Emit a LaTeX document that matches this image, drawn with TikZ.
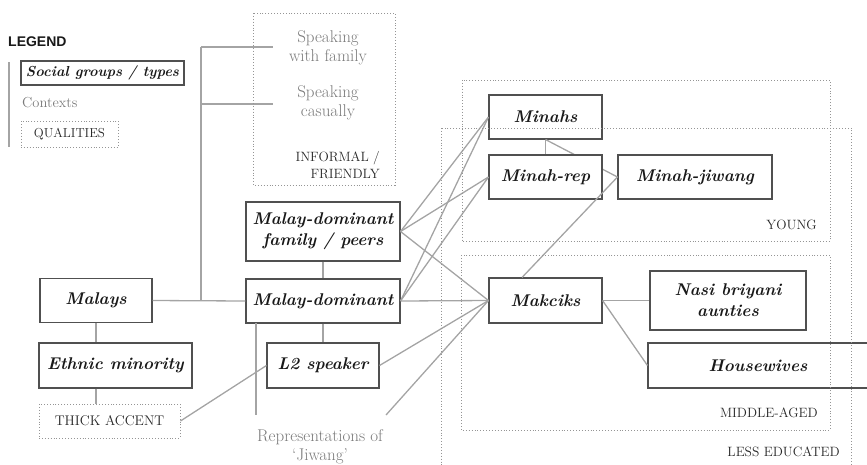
\documentclass[tikz,border=0pt]{standalone}
\usepackage{fontspec}
\newfontfamily\legendfont{Liberation Sans}
\definecolor{boxc}{HTML}{505050}
\definecolor{linec}{HTML}{A4A4A4}
\definecolor{ctxc}{HTML}{7A7A7A}
\definecolor{dotc}{HTML}{959595}
\definecolor{capc}{HTML}{262626}
\tikzset{
  grp/.style={draw=boxc, line width=1.05pt, fill=white, inner sep=0pt, align=center,
    font=\fontsize{17}{21}\selectfont\bfseries\itshape, text=black!90},
  lgrp/.style={grp, font=\fontsize{14.5}{18}\selectfont\bfseries\itshape},
  ctx/.style={text=ctxc, align=center, inner sep=0pt, font=\fontsize{17}{19}\selectfont},
  qual/.style={text=capc, inner sep=0pt, font=\fontsize{13.5}{16.5}\selectfont\addfontfeatures{LetterSpace=4}},
  region/.style={draw=dotc, line width=0.9pt, dotted},
  conn/.style={draw=linec, line width=1.3pt},
}
\begin{document}
\begin{tikzpicture}[x=1pt, y=-1pt]
\useasboundingbox (0,0) rectangle (867,464);
\clip (0,0) rectangle (867,464);
% legend
\node[anchor=west, inner sep=0pt, font=\legendfont\fontsize{14}{16}\selectfont\bfseries, text=black!90] (legend) at (8,42) {LEGEND};
\coordinate (lgtop) at (9,62);
\coordinate (lgbot) at (9,147);
\draw[draw=linec, line width=2pt] (lgtop) -- (lgbot);
\node[lgrp, minimum width=163pt, minimum height=24pt] (lsocial) at (102.5,73) {Social groups / types};
\node[ctx, anchor=west, font=\fontsize{14.5}{17}\selectfont] (lctx) at (22,103) {Contexts};
\node[region, qual, minimum width=97pt, minimum height=26pt, font=\fontsize{13}{15}\selectfont\addfontfeatures{LetterSpace=4}] (lqual) at (69.5,134) {QUALITIES};

% context labels
\node[ctx] (sfam) at (328,48) {Speaking\\with family};
\node[ctx] (scas) at (328,103) {Speaking\\casually};
\node[qual, anchor=east, align=right] (informal) at (380,165) {INFORMAL /\\FRIENDLY};
\node[ctx] (rep) at (320,447) {Representations of\\`Jiwang'};

% coordinates for tree and free ends
\coordinate (tj) at (201,300.5);
\coordinate (tt) at (201,47);
\coordinate (tm) at (201,104);
\coordinate (sfend) at (273,47);
\coordinate (scend) at (273,104);
\coordinate (repL) at (256,415);
\coordinate (repLt) at (256,323);
\coordinate (repR) at (386,415);

% positions
\path
  (96,300.5) coordinate (pmalays)
  (115.5,365.5) coordinate (pethnic)
  (109.5,421) coordinate (pthick)
  (323,231.5) coordinate (pfam)
  (323,301) coordinate (pmaldom)
  (323,365.5) coordinate (pl2)
  (545.5,117) coordinate (pminahs)
  (545.5,177) coordinate (pminahrep)
  (695,177) coordinate (pminahjiw)
  (545.5,300.5) coordinate (pmakciks)
  (728,300.5) coordinate (pnasi)
  (798,365.5) coordinate (phouse);

% tree connectors
\draw[conn] (tt) -- (tj);
\draw[conn] (tt) -- (sfend);
\draw[conn] (tm) -- (scend);

\node[grp, minimum width=112pt, minimum height=44pt] (malays) at (pmalays) {Malays};
\node[grp, minimum width=153pt, minimum height=45pt] (ethnic) at (pethnic) {Ethnic minority};
\node[region, qual, fill=white, minimum width=141pt, minimum height=34pt, font=\fontsize{14}{16}\selectfont\addfontfeatures{LetterSpace=4}] (thick) at (pthick) {THICK ACCENT};
\node[grp, minimum width=154pt, minimum height=59pt] (fam) at (pfam) {Malay-dominant\\family / peers};
\node[grp, minimum width=154pt, minimum height=44pt] (maldom) at (pmaldom) {Malay-dominant};
\node[grp, minimum width=112pt, minimum height=45pt] (l2) at (pl2) {L2 speaker};
\node[grp, minimum width=113pt, minimum height=44pt] (minahs) at (pminahs) {Minahs};
\node[grp, minimum width=154pt, minimum height=44pt] (minahjiw) at (pminahjiw) {Minah-jiwang};
\draw[conn] (minahs.south) -- (minahjiw.west);
\node[grp, minimum width=113pt, minimum height=44pt] (minahrep) at (pminahrep) {Minah-rep};
\node[grp, minimum width=113pt, minimum height=45pt] (makciks) at (pmakciks) {Makciks};
\node[grp, minimum width=156pt, minimum height=59pt] (nasi) at (pnasi) {Nasi briyani\\aunties};
\node[grp, minimum width=300pt, minimum height=45pt] (house) at (phouse) {Housewives\hspace*{80pt}};

% connectors between nodes
\draw[conn] (malays.east) -- (maldom.west);
\draw[conn] (malays.south) -- (malays.south |- ethnic.north);
\draw[conn] (malays.south |- ethnic.south) -- (malays.south |- thick.north);
\draw[conn] (fam.south) -- (maldom.north);
\draw[conn] (maldom.south) -- (l2.north);
\draw[conn] (minahs.south) -- (minahrep.north);
\draw[conn] (repLt) -- (repL);
\draw[conn] (fam.east) -- (minahs.west);
\draw[conn] (fam.east) -- (minahrep.west);
\draw[conn] (fam.east) -- (makciks.west);
\draw[conn] (maldom.east) -- (minahs.west);
\draw[conn] (maldom.east) -- (minahrep.west);
\draw[conn] (maldom.east) -- (makciks.west);
\draw[conn] (l2.east) -- (makciks.west);
\draw[conn] (repR) -- (makciks.west);
\draw[conn] (thick.east) -- (l2.west);
\draw[conn] ([xshift=-23.5pt]makciks.north) -- (minahjiw.west);
\draw[conn] (makciks.east) -- (nasi.west);
\draw[conn] (makciks.east) -- (house.west);

% region boxes
\coordinate (infA) at (253,13);
\coordinate (infB) at (395,185);
\draw[region] (infA) rectangle (infB);
\coordinate (youA) at (462,80);
\coordinate (youB) at (830,241);
\draw[region] (youA) rectangle (youB);
\node[qual, anchor=east] (young) at (817,225) {YOUNG};
\coordinate (midA) at (461,255);
\coordinate (midB) at (830,430);
\draw[region] (midA) rectangle (midB);
\node[qual, anchor=east] (middle) at (818,413) {MIDDLE-AGED};
\coordinate (lessA) at (441,128);
\coordinate (lessB) at (851,480);
\draw[region] (lessA) rectangle (lessB);
\node[qual, anchor=east] (less) at (840,452) {LESS EDUCATED};
\end{tikzpicture}
\end{document}
